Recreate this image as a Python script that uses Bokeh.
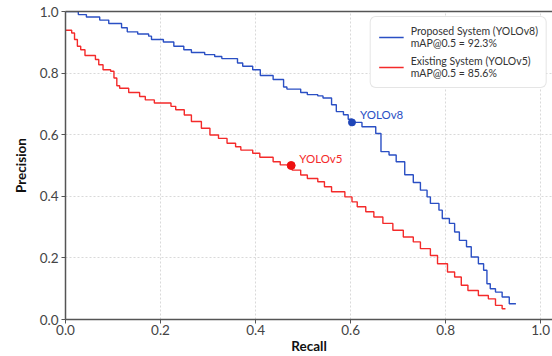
from bokeh.plotting import figure
from bokeh.models import (Range1d, LinearAxis, Legend, LegendItem, FixedTicker,
                          PrintfTickFormatter)
from bokeh.core.properties import value
from bokeh.embed import file_html
from bokeh.resources import INLINE

# ---- data ----
recall_v8 = [0.0, 0.027, 0.044, 0.072, 0.091, 0.118, 0.13, 0.152, 0.175, 0.181,
             0.206, 0.228, 0.249, 0.265, 0.293, 0.314, 0.329, 0.362, 0.373, 0.394,
             0.41, 0.437, 0.459, 0.466, 0.495, 0.509, 0.531, 0.542, 0.56, 0.57,
             0.585, 0.595, 0.603, 0.624, 0.653, 0.664, 0.681, 0.696, 0.714, 0.732,
             0.747, 0.761, 0.768, 0.786, 0.793, 0.808, 0.819, 0.829, 0.844, 0.854,
             0.869, 0.88, 0.887, 0.894, 0.905, 0.919, 0.934, 0.948]
precision_v8 = [1.0, 0.99, 0.982, 0.972, 0.961, 0.947, 0.934, 0.927, 0.92, 0.909,
                0.901, 0.887, 0.876, 0.867, 0.86, 0.854, 0.847, 0.833, 0.822, 0.811,
                0.792, 0.779, 0.755, 0.748, 0.737, 0.73, 0.726, 0.719, 0.697, 0.675,
                0.665, 0.65, 0.64, 0.626, 0.604, 0.545, 0.534, 0.512, 0.47, 0.445,
                0.42, 0.398, 0.377, 0.355, 0.328, 0.312, 0.284, 0.257, 0.236, 0.203,
                0.181, 0.16, 0.116, 0.1, 0.089, 0.073, 0.051, 0.051]

recall_v5 = [0.0, 0.013, 0.019, 0.025, 0.032, 0.041, 0.063, 0.07, 0.079, 0.095,
             0.102, 0.108, 0.114, 0.133, 0.156, 0.168, 0.187, 0.222, 0.232, 0.25,
             0.265, 0.286, 0.304, 0.322, 0.34, 0.358, 0.369, 0.394, 0.409, 0.437,
             0.452, 0.477, 0.495, 0.509, 0.531, 0.545, 0.56, 0.588, 0.603, 0.614,
             0.632, 0.649, 0.668, 0.689, 0.711, 0.732, 0.747, 0.768, 0.783, 0.804,
             0.819, 0.833, 0.847, 0.869, 0.89, 0.905, 0.919, 0.926]
precision_v5 = [0.939, 0.93, 0.909, 0.887, 0.876, 0.857, 0.844, 0.827, 0.811, 0.806,
                0.784, 0.759, 0.751, 0.737, 0.724, 0.713, 0.703, 0.692, 0.681, 0.664,
                0.643, 0.621, 0.599, 0.588, 0.572, 0.561, 0.55, 0.54, 0.527, 0.512,
                0.502, 0.485, 0.469, 0.458, 0.447, 0.431, 0.415, 0.398, 0.382, 0.366,
                0.35, 0.333, 0.312, 0.29, 0.268, 0.252, 0.23, 0.208, 0.181, 0.154,
                0.138, 0.111, 0.094, 0.078, 0.067, 0.046, 0.035, 0.035]

marker_names = ["YOLOv8", "YOLOv5"]
marker_recall = [0.603, 0.475]
marker_precision = [0.64, 0.50]

legend_labels = ["Proposed System (YOLOv8)\nmAP@0.5 = 92.3%",
                 "Existing System (YOLOv5)\nmAP@0.5 = 85.6%"]
tick_values = [0.0, 0.2, 0.4, 0.6, 0.8, 1.0]

BLUE = "#2a4fc4"
RED = "#f42a2a"
FONT = "Lato"

p = figure(width=552, height=356, output_backend="svg", toolbar_location=None,
           x_range=Range1d(0, 1.025), y_range=Range1d(0, 1.0),
           min_border_left=65, min_border_right=0, min_border_top=11,
           min_border_bottom=0)
p.outline_line_color = None
p.background_fill_color = "white"

# grid
for g in (p.xgrid, p.ygrid):
    g.grid_line_color = "#d9d9d9"
    g.grid_line_dash = "2 2"
    g.grid_line_width = 1
    g.ticker = FixedTicker(ticks=tick_values)

for ax in (p.xaxis[0], p.yaxis[0]):
    ax.ticker = FixedTicker(ticks=tick_values)
    ax.formatter = PrintfTickFormatter(format="%.1f")
    ax.axis_line_color = "#555555"
    ax.axis_line_width = 1.5
    ax.major_tick_line_color = "#555555"
    ax.major_tick_in = 0
    ax.major_tick_out = 4
    ax.minor_tick_line_color = None
    ax.major_label_text_font = FONT
    ax.major_label_text_font_size = "13.5px"
    ax.major_label_text_color = "#444444"
    ax.axis_label_text_font = FONT
    ax.axis_label_text_font_size = "13.5px"
    ax.axis_label_text_font_style = "bold"
    ax.axis_label_text_color = "#111111"

p.xaxis.axis_label = "Recall"
p.yaxis.axis_label = "Precision"
p.xaxis.major_label_standoff = 1
p.xaxis.axis_label_standoff = 0
p.yaxis.major_label_standoff = 3
p.yaxis.axis_label_standoff = 8

# top spine (line only)
top = LinearAxis(ticker=FixedTicker(ticks=[]), axis_line_color="#555555",
                 axis_line_width=1.5, major_tick_line_color=None,
                 minor_tick_line_color=None, major_tick_out=0,
                 major_label_standoff=0)
p.add_layout(top, "above")

r8 = p.step(recall_v8, precision_v8, mode="after", line_color=BLUE, line_width=1.4)
r5 = p.step(recall_v5, precision_v5, mode="after", line_color=RED, line_width=1.4)

p.scatter(marker_recall[:1], marker_precision[:1], size=7, color="#1f45b8")
p.scatter(marker_recall[1:], marker_precision[1:], size=8, color="#ee1111")
p.text(marker_recall[:1], marker_precision[:1], text=marker_names[:1],
       x_offset=8, y_offset=-1, text_color=BLUE, text_font=value(FONT),
       text_font_size="11.5px", text_baseline="bottom")
p.text(marker_recall[1:], marker_precision[1:], text=marker_names[1:],
       x_offset=8, y_offset=-1, text_color=RED, text_font=value(FONT),
       text_font_size="11.5px", text_baseline="bottom")

legend = Legend(items=[LegendItem(label=legend_labels[0], renderers=[r8]),
                       LegendItem(label=legend_labels[1], renderers=[r5])],
                location="top_right")
legend.label_text_font = FONT
legend.label_text_font_size = "10.5px"
legend.label_text_color = "#333333"
legend.label_text_line_height = 1.25
legend.border_line_color = "#cccccc"
legend.border_radius = 6
legend.background_fill_color = "white"
legend.background_fill_alpha = 1.0
legend.glyph_width = 25
legend.label_standoff = 7
legend.spacing = 6
legend.padding = 8
legend.margin = 5
p.add_layout(legend, "center")

open("out.html", "w").write(file_html(p, INLINE))
